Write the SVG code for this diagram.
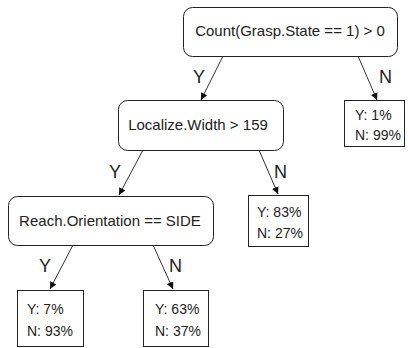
<svg xmlns="http://www.w3.org/2000/svg" width="408" height="348" viewBox="0 0 408 348">
<style>
.dec{fill:#fff;stroke:#222;stroke-width:1}
.leaf{fill:#fff;stroke:#222;stroke-width:1}
.t{font-family:"Liberation Sans",Arial,sans-serif;font-size:15px;fill:#222}
.lt{font-family:"Liberation Sans",Arial,sans-serif;font-size:14px;fill:#222}
.el{font-family:"Liberation Sans",Arial,sans-serif;font-size:18px;fill:#222}
.c{stroke:#333;stroke-width:1;fill:none;marker-end:url(#ah)}
</style>
<defs>
<marker id="ah" viewBox="0 0 10 10" refX="10" refY="5" markerWidth="7" markerHeight="7" orient="auto" markerUnits="userSpaceOnUse">
<path d="M0,0 L10,5 L0,10 z" fill="#111"/>
</marker>
</defs>
<rect width="408" height="348" fill="#fff"/>
<g id="connectors">
<line class="c" x1="223" y1="56" x2="201" y2="100"/>
<line class="c" x1="358" y1="56" x2="377" y2="100"/>
<line class="c" x1="143" y1="150" x2="119" y2="195"/>
<line class="c" x1="259" y1="150" x2="278" y2="194"/>
<line class="c" x1="73" y1="245" x2="50" y2="289"/>
<line class="c" x1="153" y1="245" x2="173" y2="289"/>
<text class="el" x="193" y="83">Y</text>
<text class="el" x="379" y="83">N</text>
<text class="el" x="109" y="178">Y</text>
<text class="el" x="274" y="178">N</text>
<text class="el" x="39" y="272">Y</text>
<text class="el" x="169" y="272">N</text>
</g>
<g id="root">
<rect class="dec" x="183.5" y="7.5" width="214" height="49" rx="9"/>
<text class="t" x="290" y="36" text-anchor="middle">Count(Grasp.State == 1) &gt; 0</text>
</g>
<g id="leafRootN">
<rect class="leaf" x="344.5" y="100.5" width="60" height="46"/>
<text class="lt" x="355" y="120">Y: 1%</text>
<text class="lt" x="355" y="140">N: 99%</text>
</g>
<g id="localize">
<rect class="dec" x="118.5" y="100.5" width="165" height="50" rx="9"/>
<text class="t" x="198" y="130" text-anchor="middle">Localize.Width &gt; 159</text>
</g>
<g id="leafLocN">
<rect class="leaf" x="248.5" y="195.5" width="60" height="51"/>
<text class="lt" x="257" y="217">Y: 83%</text>
<text class="lt" x="257" y="238">N: 27%</text>
</g>
<g id="reach">
<rect class="dec" x="8.5" y="196.5" width="205" height="49" rx="9"/>
<text class="t" x="110" y="226" text-anchor="middle">Reach.Orientation == SIDE</text>
</g>
<g id="leafReachY">
<rect class="leaf" x="17.5" y="290.5" width="66" height="56"/>
<text class="lt" x="27" y="314">Y: 7%</text>
<text class="lt" x="27" y="336">N: 93%</text>
</g>
<g id="leafReachN">
<rect class="leaf" x="143.5" y="290.5" width="65" height="56"/>
<text class="lt" x="155" y="314">Y: 63%</text>
<text class="lt" x="155" y="336">N: 37%</text>
</g>
</svg>
